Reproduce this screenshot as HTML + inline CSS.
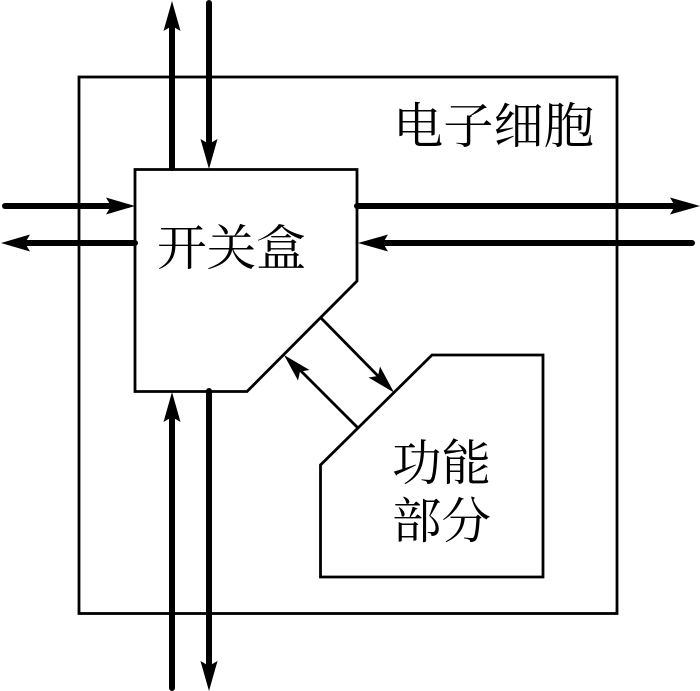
<!DOCTYPE html>
<html>
<head>
<meta charset="utf-8">
<style>
html,body{margin:0;padding:0;background:#fff;width:700px;height:691px;overflow:hidden}
svg{display:block}
text{font-family:"Liberation Serif","Noto Serif CJK SC",serif;fill:#000}
</style>
</head>
<body>
<svg width="700" height="691" viewBox="0 0 700 691" xmlns="http://www.w3.org/2000/svg">
<rect width="700" height="691" fill="#fff"/>
<g fill="none" stroke="#000" stroke-width="2.800">
<rect x="79" y="77" width="538" height="536.500"/>
<polygon points="135,169.500 357,169.500 357,281 247,391.500 135,391.500" fill="#fff"/>
<polygon points="432,355 543,355 543,577 320.500,577 320.500,465" fill="#fff"/>
<line x1="321" y1="318" x2="380" y2="378"/>
<line x1="358" y1="428" x2="300" y2="370"/>
</g>
<g stroke="#000" stroke-width="6" stroke-linecap="round" fill="none">
<line x1="172" y1="25" x2="172" y2="168"/>
<line x1="209" y1="3" x2="209" y2="145"/>
<line x1="172" y1="415" x2="172" y2="688"/>
<line x1="209" y1="391" x2="209" y2="665"/>
<line x1="5" y1="206" x2="112" y2="206"/>
<line x1="25" y1="243" x2="135" y2="243"/>
<line x1="357" y1="206" x2="675" y2="206"/>
<line x1="382" y1="243" x2="692" y2="243"/>
</g>
<g fill="#000">
<polygon points="172,1 163.500,31 172,26 180.500,31"/>
<polygon points="209,169 200.500,139 209,144 217.500,139"/>
<polygon points="172,392 163.500,422 172,417 180.500,422"/>
<polygon points="209,691 200.500,661 209,666 217.500,661"/>
<polygon points="135,206 106,197.500 111,206 106,214.500"/>
<polygon points="1,243 30,234.500 25,243 30,251.500"/>
<polygon points="700,206 670,197.500 675,206 670,214.500"/>
<polygon points="358,243 388,234.500 383,243 388,251.500"/>
<polygon points="394,392.500 380,366.500 378,376 368.500,377.500"/>
<polygon points="284,355 309.500,370 300,371.500 298,380.500"/>
</g>
<text x="393" y="143" textLength="201" lengthAdjust="spacingAndGlyphs" style="font-size:49px">电子细胞</text>
<text x="157" y="265" textLength="149" lengthAdjust="spacingAndGlyphs" style="font-size:49px">开关盒</text>
<text x="392" y="480" textLength="99" lengthAdjust="spacingAndGlyphs" style="font-size:49px">功能</text>
<text x="392" y="538" textLength="99" lengthAdjust="spacingAndGlyphs" style="font-size:49px">部分</text>
</svg>
</body>
</html>
